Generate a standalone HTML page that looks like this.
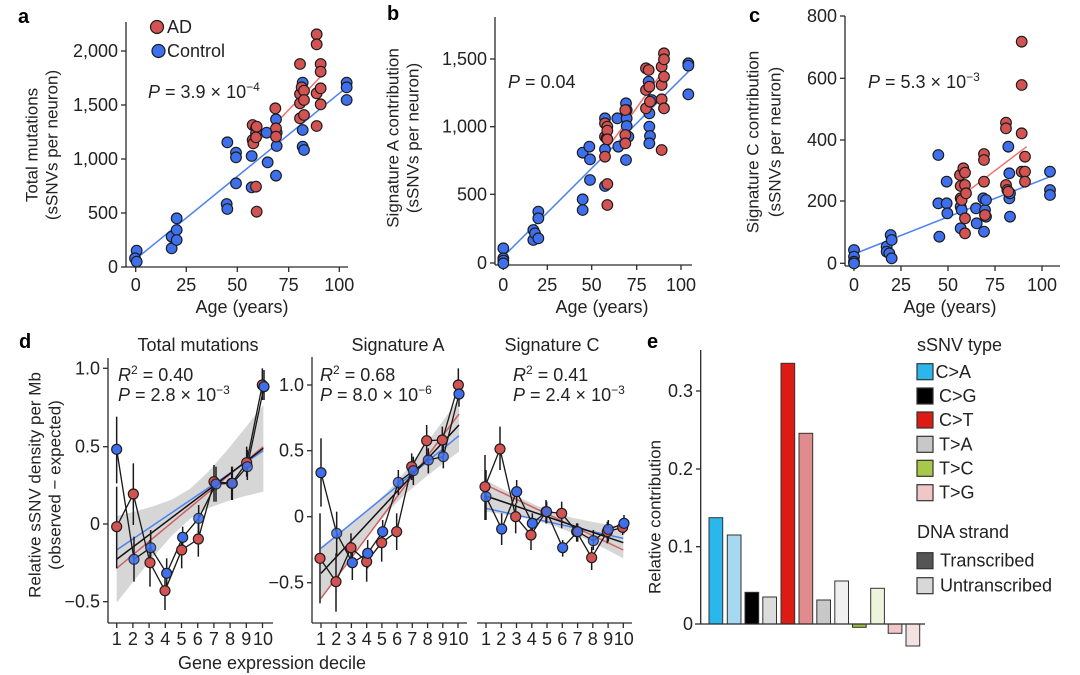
<!DOCTYPE html>
<html><head><meta charset="utf-8"><style>
html,body{margin:0;padding:0;background:#fff;}
svg{display:block;font-family:"Liberation Sans",Arial,sans-serif;}
.ax{stroke:#2a2a2a;stroke-width:1.3;fill:none;}
.t{font-size:18px;fill:#222;}
.yt{font-size:17px;fill:#222;}
.L{font-size:20px;font-weight:bold;fill:#000;}
.b{fill:#3e70ee;stroke:#1c1c1c;stroke-width:3.5;}
.r{fill:#d35353;stroke:#1c1c1c;stroke-width:3.5;}
.eb{stroke:#1a1a1a;stroke-width:4.5;}
.cn{stroke:#1a1a1a;stroke-width:4;fill:none;}
.bar{stroke:#333;stroke-width:1;}
</style></head><body>
<svg width="1080" height="675" viewBox="0 0 1080 675" xmlns="http://www.w3.org/2000/svg">

<!-- ================= Panel a ================= -->
<text class="L" x="18" y="23">a</text>
<line class="ax" x1="126" y1="22" x2="126" y2="267"/>
<line class="ax" x1="126" y1="267" x2="348" y2="267"/>
<g class="ax">
<line x1="121" y1="267" x2="126" y2="267"/><line x1="121" y1="213" x2="126" y2="213"/><line x1="121" y1="159" x2="126" y2="159"/><line x1="121" y1="105" x2="126" y2="105"/><line x1="121" y1="51" x2="126" y2="51"/>
<line x1="135.7" y1="267" x2="135.7" y2="272"/><line x1="186.3" y1="267" x2="186.3" y2="272"/><line x1="237.3" y1="267" x2="237.3" y2="272"/><line x1="288.7" y1="267" x2="288.7" y2="272"/><line x1="339.3" y1="267" x2="339.3" y2="272"/>
</g>
<g class="t" text-anchor="end">
<text x="118" y="273">0</text><text x="118" y="219">500</text><text x="118" y="165">1,000</text><text x="118" y="111">1,500</text><text x="118" y="57">2,000</text>
</g>
<g class="t" text-anchor="middle">
<text x="135.7" y="291">0</text><text x="186.3" y="291">25</text><text x="237.3" y="291">50</text><text x="288.7" y="291">75</text><text x="339.3" y="291">100</text>
<text x="242" y="313">Age (years)</text>
</g>
<g class="yt" text-anchor="middle" dominant-baseline="central">
<text transform="translate(32,145) rotate(-90)">Total mutations</text>
<text transform="translate(52,145) rotate(-90)">(sSNVs per neuron)</text>
</g>
<circle cx="157" cy="27" r="6.5" fill="#d35353" stroke="#1c1c1c" stroke-width="1.2"/>
<text class="t" x="167" y="33">AD</text>
<circle cx="158.5" cy="51" r="6.5" fill="#3e70ee" stroke="#1c1c1c" stroke-width="1.2"/>
<text class="t" x="167" y="57">Control</text>
<text class="t" x="148" y="98"><tspan font-style="italic">P</tspan> = 3.9 × 10<tspan font-size="12" dy="-7">−4</tspan></text>
<g transform="scale(0.33333)">
<line x1="410" y1="775" x2="1040" y2="262" stroke="#4d80f0" stroke-width="4.5"/>
<line x1="760" y1="440" x2="962" y2="230" stroke="#f07070" stroke-width="4.5"/>
<g class="b">
<circle cx="410" cy="752" r="16"/><circle cx="405" cy="775" r="16"/><circle cx="410" cy="785" r="16"/>
<circle cx="515" cy="710" r="16"/><circle cx="515" cy="745" r="16"/><circle cx="530" cy="690" r="16"/><circle cx="530" cy="720" r="16"/><circle cx="530" cy="655" r="16"/>
<circle cx="682" cy="427" r="16"/><circle cx="680" cy="612" r="16"/><circle cx="682" cy="627" r="16"/>
<circle cx="708" cy="458" r="16"/><circle cx="708" cy="472" r="16"/><circle cx="708" cy="550" r="16"/>
<circle cx="755" cy="468" r="16"/><circle cx="755" cy="562" r="16"/>
<circle cx="800" cy="398" r="16"/><circle cx="803" cy="487" r="16"/>
<circle cx="828" cy="358" r="16"/><circle cx="830" cy="398" r="16"/><circle cx="830" cy="438" r="16"/><circle cx="828" cy="527" r="16"/>
<circle cx="908" cy="248" r="16"/><circle cx="908" cy="390" r="16"/><circle cx="908" cy="440" r="16"/><circle cx="912" cy="450" r="16"/>
<circle cx="1040" cy="248" r="16"/><circle cx="1040" cy="262" r="16"/><circle cx="1040" cy="300" r="16"/>
</g>
<g class="r">
<circle cx="758" cy="375" r="16"/><circle cx="758" cy="420" r="16"/><circle cx="760" cy="430" r="16"/><circle cx="768" cy="385" r="16"/><circle cx="768" cy="400" r="16"/><circle cx="768" cy="412" r="16"/><circle cx="770" cy="380" r="16"/><circle cx="768" cy="560" r="16"/><circle cx="770" cy="635" r="16"/>
<circle cx="826" cy="325" r="16"/><circle cx="828" cy="385" r="16"/><circle cx="828" cy="410" r="16"/>
<circle cx="900" cy="192" r="16"/><circle cx="900" cy="282" r="16"/><circle cx="900" cy="310" r="16"/><circle cx="900" cy="355" r="16"/><circle cx="905" cy="262" r="16"/>
<circle cx="912" cy="272" r="16"/><circle cx="912" cy="300" r="16"/><circle cx="912" cy="345" r="16"/>
<circle cx="950" cy="103" r="16"/><circle cx="950" cy="133" r="16"/><circle cx="950" cy="280" r="16"/><circle cx="950" cy="378" r="16"/>
<circle cx="962" cy="192" r="16"/><circle cx="962" cy="215" r="16"/><circle cx="962" cy="265" r="16"/><circle cx="962" cy="313" r="16"/>
</g>
</g>

<!-- ================= Panel b ================= -->
<text class="L" x="387" y="20">b</text>
<line class="ax" x1="495" y1="17" x2="495" y2="265"/>
<line class="ax" x1="495" y1="265" x2="692" y2="265"/>
<g class="ax">
<line x1="490" y1="263" x2="495" y2="263"/><line x1="490" y1="194.3" x2="495" y2="194.3"/><line x1="490" y1="126.7" x2="495" y2="126.7"/><line x1="490" y1="59" x2="495" y2="59"/>
<line x1="503.3" y1="265" x2="503.3" y2="270"/><line x1="547.3" y1="265" x2="547.3" y2="270"/><line x1="591.7" y1="265" x2="591.7" y2="270"/><line x1="636.7" y1="265" x2="636.7" y2="270"/><line x1="681" y1="265" x2="681" y2="270"/>
</g>
<g class="t" text-anchor="end">
<text x="487" y="269">0</text><text x="487" y="200.3">500</text><text x="487" y="132.7">1,000</text><text x="487" y="65">1,500</text>
</g>
<g class="t" text-anchor="middle">
<text x="503.3" y="291">0</text><text x="547.3" y="291">25</text><text x="591.7" y="291">50</text><text x="636.7" y="291">75</text><text x="681" y="291">100</text>
<text x="602" y="313">Age (years)</text>
</g>
<g class="yt" text-anchor="middle" dominant-baseline="central">
<text transform="translate(393,138) rotate(-90)">Signature A contribution</text>
<text transform="translate(413,138) rotate(-90)">(sSNVs per neuron)</text>
</g>
<text class="t" x="508" y="88"><tspan font-style="italic">P</tspan> = 0.04</text>
<g transform="translate(360,0) scale(0.33333)">
<line x1="430" y1="770" x2="985" y2="215" stroke="#4d80f0" stroke-width="4.5"/>
<line x1="742" y1="445" x2="912" y2="210" stroke="#f07070" stroke-width="4.5"/>
<g class="b">
<circle cx="430" cy="745" r="16"/><circle cx="430" cy="775" r="16"/><circle cx="430" cy="782" r="16"/><circle cx="430" cy="790" r="16"/>
<circle cx="520" cy="690" r="16"/><circle cx="520" cy="720" r="16"/><circle cx="525" cy="700" r="16"/><circle cx="535" cy="635" r="16"/><circle cx="535" cy="655" r="16"/><circle cx="535" cy="715" r="16"/>
<circle cx="668" cy="458" r="16"/><circle cx="668" cy="598" r="16"/><circle cx="668" cy="630" r="16"/>
<circle cx="688" cy="440" r="16"/><circle cx="690" cy="478" r="16"/><circle cx="690" cy="540" r="16"/>
<circle cx="735" cy="355" r="16"/><circle cx="735" cy="448" r="16"/><circle cx="735" cy="558" r="16"/>
<circle cx="772" cy="355" r="16"/><circle cx="775" cy="440" r="16"/>
<circle cx="798" cy="310" r="16"/><circle cx="800" cy="330" r="16"/><circle cx="800" cy="355" r="16"/><circle cx="800" cy="378" r="16"/><circle cx="798" cy="480" r="16"/><circle cx="805" cy="410" r="16"/>
<circle cx="866" cy="245" r="16"/><circle cx="868" cy="340" r="16"/><circle cx="868" cy="380" r="16"/><circle cx="870" cy="408" r="16"/><circle cx="868" cy="430" r="16"/><circle cx="875" cy="300" r="16"/>
<circle cx="985" cy="190" r="16"/><circle cx="985" cy="197" r="16"/><circle cx="985" cy="283" r="16"/>
</g>
<g class="r">
<circle cx="735" cy="370" r="16"/><circle cx="735" cy="410" r="16"/><circle cx="735" cy="470" r="16"/><circle cx="740" cy="415" r="16"/><circle cx="742" cy="380" r="16"/><circle cx="742" cy="392" r="16"/><circle cx="742" cy="418" r="16"/><circle cx="742" cy="552" r="16"/><circle cx="742" cy="615" r="16"/>
<circle cx="796" cy="330" r="16"/><circle cx="796" cy="405" r="16"/><circle cx="796" cy="430" r="16"/>
<circle cx="858" cy="205" r="16"/><circle cx="858" cy="270" r="16"/><circle cx="858" cy="325" r="16"/><circle cx="866" cy="210" r="16"/><circle cx="868" cy="260" r="16"/><circle cx="870" cy="305" r="16"/>
<circle cx="905" cy="200" r="16"/><circle cx="905" cy="255" r="16"/><circle cx="905" cy="298" r="16"/><circle cx="905" cy="450" r="16"/>
<circle cx="912" cy="160" r="16"/><circle cx="912" cy="178" r="16"/><circle cx="912" cy="230" r="16"/><circle cx="912" cy="325" r="16"/>
</g>
</g>

<!-- ================= Panel c ================= -->
<text class="L" x="749" y="22">c</text>
<line class="ax" x1="845" y1="16" x2="845" y2="266"/>
<line class="ax" x1="845" y1="266" x2="1060" y2="266"/>
<g class="ax">
<line x1="840" y1="263.3" x2="845" y2="263.3"/><line x1="840" y1="201" x2="845" y2="201"/><line x1="840" y1="140" x2="845" y2="140"/><line x1="840" y1="78.3" x2="845" y2="78.3"/><line x1="840" y1="16" x2="845" y2="16"/>
<line x1="854" y1="266" x2="854" y2="271"/><line x1="901" y1="266" x2="901" y2="271"/><line x1="948" y1="266" x2="948" y2="271"/><line x1="995" y1="266" x2="995" y2="271"/><line x1="1042" y1="266" x2="1042" y2="271"/>
</g>
<g class="t" text-anchor="end">
<text x="837" y="269.3">0</text><text x="837" y="207">200</text><text x="837" y="146">400</text><text x="837" y="84.3">600</text><text x="837" y="22">800</text>
</g>
<g class="t" text-anchor="middle">
<text x="854" y="291">0</text><text x="901" y="291">25</text><text x="948" y="291">50</text><text x="995" y="291">75</text><text x="1042" y="291">100</text>
<text x="950" y="313">Age (years)</text>
</g>
<g class="yt" text-anchor="middle" dominant-baseline="central">
<text transform="translate(753,142) rotate(-90)">Signature C contribution</text>
<text transform="translate(775,142) rotate(-90)">(sSNVs per neuron)</text>
</g>
<text class="t" x="868" y="88"><tspan font-style="italic">P</tspan> = 5.3 × 10<tspan font-size="12" dy="-7">−3</tspan></text>
<g transform="translate(720,0) scale(0.33333)">
<line x1="402" y1="762" x2="990" y2="530" stroke="#4d80f0" stroke-width="4.5"/>
<line x1="735" y1="580" x2="920" y2="440" stroke="#f07070" stroke-width="4.5"/>
<g class="b">
<circle cx="402" cy="750" r="16"/><circle cx="402" cy="770" r="16"/><circle cx="402" cy="785" r="16"/><circle cx="402" cy="790" r="16"/>
<circle cx="500" cy="740" r="16"/><circle cx="500" cy="755" r="16"/><circle cx="508" cy="760" r="16"/><circle cx="512" cy="705" r="16"/><circle cx="515" cy="720" r="16"/><circle cx="515" cy="775" r="16"/>
<circle cx="655" cy="465" r="16"/><circle cx="655" cy="610" r="16"/><circle cx="658" cy="710" r="16"/>
<circle cx="680" cy="545" r="16"/><circle cx="680" cy="610" r="16"/><circle cx="682" cy="640" r="16"/>
<circle cx="722" cy="620" r="16"/><circle cx="722" cy="685" r="16"/><circle cx="725" cy="630" r="16"/>
<circle cx="768" cy="625" r="16"/><circle cx="770" cy="670" r="16"/>
<circle cx="790" cy="595" r="16"/><circle cx="792" cy="695" r="16"/><circle cx="795" cy="630" r="16"/><circle cx="798" cy="650" r="16"/><circle cx="798" cy="600" r="16"/>
<circle cx="865" cy="440" r="16"/><circle cx="868" cy="520" r="16"/><circle cx="868" cy="595" r="16"/><circle cx="870" cy="650" r="16"/><circle cx="870" cy="580" r="16"/>
<circle cx="990" cy="515" r="16"/><circle cx="990" cy="570" r="16"/><circle cx="990" cy="585" r="16"/>
</g>
<g class="r">
<circle cx="720" cy="525" r="16"/><circle cx="722" cy="558" r="16"/><circle cx="722" cy="595" r="16"/><circle cx="725" cy="600" r="16"/><circle cx="730" cy="505" r="16"/><circle cx="735" cy="518" r="16"/><circle cx="735" cy="555" r="16"/><circle cx="738" cy="580" r="16"/><circle cx="735" cy="655" r="16"/><circle cx="735" cy="700" r="16"/>
<circle cx="792" cy="462" r="16"/><circle cx="792" cy="480" r="16"/><circle cx="792" cy="545" r="16"/><circle cx="795" cy="645" r="16"/>
<circle cx="858" cy="368" r="16"/><circle cx="858" cy="385" r="16"/><circle cx="858" cy="555" r="16"/><circle cx="862" cy="570" r="16"/><circle cx="865" cy="575" r="16"/>
<circle cx="905" cy="125" r="16"/><circle cx="905" cy="255" r="16"/><circle cx="905" cy="400" r="16"/><circle cx="905" cy="515" r="16"/>
<circle cx="915" cy="470" r="16"/><circle cx="915" cy="515" r="16"/><circle cx="915" cy="545" r="16"/>
</g>
</g>

<!-- ================= Panel d ================= -->
<text class="L" x="19" y="348">d</text>
<g class="t" text-anchor="middle">
<text x="198" y="351">Total mutations</text>
<text x="398" y="351">Signature A</text>
<text x="552" y="351">Signature C</text>
<text x="272" y="669">Gene expression decile</text>
</g>
<g class="yt" text-anchor="middle" dominant-baseline="central">
<text transform="translate(35,485) rotate(-90)">Relative sSNV density per Mb</text>
<text transform="translate(55,485) rotate(-90)">(observed − expected)</text>
</g>
<!-- axes d1 -->
<line class="ax" x1="108" y1="358" x2="108" y2="623"/>
<line class="ax" x1="108" y1="623" x2="273" y2="623"/>
<g class="ax">
<line x1="103" y1="368.3" x2="108" y2="368.3"/><line x1="103" y1="446.7" x2="108" y2="446.7"/><line x1="103" y1="524" x2="108" y2="524"/><line x1="103" y1="601.7" x2="108" y2="601.7"/>
</g>
<g class="t" text-anchor="end">
<text x="100" y="374.3">1.0</text><text x="100" y="452.7">0.5</text><text x="100" y="530">0</text><text x="100" y="607.7">−0.5</text>
</g>
<!-- axes d2 -->
<line class="ax" x1="312" y1="357" x2="312" y2="623"/>
<line class="ax" x1="312" y1="623" x2="467" y2="623"/>
<g class="ax">
<line x1="307" y1="385" x2="312" y2="385"/><line x1="307" y1="450.7" x2="312" y2="450.7"/><line x1="307" y1="516.7" x2="312" y2="516.7"/><line x1="307" y1="582.7" x2="312" y2="582.7"/>
</g>
<g class="t" text-anchor="end">
<text x="304" y="391">1.0</text><text x="304" y="456.7">0.5</text><text x="304" y="522.7">0</text><text x="304" y="588.7">−0.5</text>
</g>
<!-- axes d3 -->
<line class="ax" x1="477" y1="623" x2="632" y2="623"/>
<!-- x ticks d -->
<g class="ax">
<line x1="116.7" y1="623" x2="116.7" y2="628"/><line x1="132.9" y1="623" x2="132.9" y2="628"/><line x1="149.1" y1="623" x2="149.1" y2="628"/><line x1="165.3" y1="623" x2="165.3" y2="628"/><line x1="181.5" y1="623" x2="181.5" y2="628"/><line x1="197.7" y1="623" x2="197.7" y2="628"/><line x1="213.9" y1="623" x2="213.9" y2="628"/><line x1="230.1" y1="623" x2="230.1" y2="628"/><line x1="246.3" y1="623" x2="246.3" y2="628"/><line x1="262.5" y1="623" x2="262.5" y2="628"/>
<line x1="321" y1="623" x2="321" y2="628"/><line x1="336.2" y1="623" x2="336.2" y2="628"/><line x1="351.4" y1="623" x2="351.4" y2="628"/><line x1="366.7" y1="623" x2="366.7" y2="628"/><line x1="381.9" y1="623" x2="381.9" y2="628"/><line x1="397.1" y1="623" x2="397.1" y2="628"/><line x1="412.3" y1="623" x2="412.3" y2="628"/><line x1="427.6" y1="623" x2="427.6" y2="628"/><line x1="442.8" y1="623" x2="442.8" y2="628"/><line x1="458" y1="623" x2="458" y2="628"/>
<line x1="486" y1="623" x2="486" y2="628"/><line x1="501.3" y1="623" x2="501.3" y2="628"/><line x1="516.5" y1="623" x2="516.5" y2="628"/><line x1="531.8" y1="623" x2="531.8" y2="628"/><line x1="547" y1="623" x2="547" y2="628"/><line x1="562.3" y1="623" x2="562.3" y2="628"/><line x1="577.6" y1="623" x2="577.6" y2="628"/><line x1="592.8" y1="623" x2="592.8" y2="628"/><line x1="608.1" y1="623" x2="608.1" y2="628"/><line x1="623.3" y1="623" x2="623.3" y2="628"/>
</g>
<g class="t" text-anchor="middle">
<text x="116.7" y="645">1</text><text x="132.9" y="645">2</text><text x="149.1" y="645">3</text><text x="165.3" y="645">4</text><text x="181.5" y="645">5</text><text x="197.7" y="645">6</text><text x="213.9" y="645">7</text><text x="230.1" y="645">8</text><text x="246.3" y="645">9</text><text x="263" y="645">10</text>
<text x="321" y="645">1</text><text x="336.2" y="645">2</text><text x="351.4" y="645">3</text><text x="366.7" y="645">4</text><text x="381.9" y="645">5</text><text x="397.1" y="645">6</text><text x="412.3" y="645">7</text><text x="427.6" y="645">8</text><text x="442.8" y="645">9</text><text x="458.5" y="645">10</text>
<text x="486" y="645">1</text><text x="501.3" y="645">2</text><text x="516.5" y="645">3</text><text x="531.8" y="645">4</text><text x="547" y="645">5</text><text x="562.3" y="645">6</text><text x="577.6" y="645">7</text><text x="592.8" y="645">8</text><text x="608.1" y="645">9</text><text x="623.8" y="645">10</text>
</g>
<!-- R2 / P texts -->
<g class="t">
<text x="118" y="381"><tspan font-style="italic">R</tspan><tspan font-size="12" dy="-7">2</tspan><tspan dy="7"> = 0.40</tspan></text>
<text x="118" y="401"><tspan font-style="italic">P</tspan> = 2.8 × 10<tspan font-size="12" dy="-7">−3</tspan></text>
<text x="320" y="381"><tspan font-style="italic">R</tspan><tspan font-size="12" dy="-7">2</tspan><tspan dy="7"> = 0.68</tspan></text>
<text x="320" y="401"><tspan font-style="italic">P</tspan> = 8.0 × 10<tspan font-size="12" dy="-7">−6</tspan></text>
<text x="513" y="381"><tspan font-style="italic">R</tspan><tspan font-size="12" dy="-7">2</tspan><tspan dy="7"> = 0.41</tspan></text>
<text x="513" y="401"><tspan font-style="italic">P</tspan> = 2.4 × 10<tspan font-size="12" dy="-7">−3</tspan></text>
</g>

<!-- d1 marks -->
<g transform="translate(0,320) scale(0.33333)">
<polygon fill="#cfcfcf" opacity="0.85" points="350,588 405,574.5 460,558.9 515,538.7 570,506.5 625,455.4 680,392.4 735,324.7 790,254.9 790,514.9 735,528.5 680,544 625,564.2 570,596.5 515,647.5 460,710.5 405,778.3 350,848"/>
<line x1="350" y1="690" x2="790" y2="392" stroke="#4d80f0" stroke-width="4.5"/>
<line x1="350" y1="745" x2="790" y2="380" stroke="#d06060" stroke-width="4.5"/>
<line x1="350" y1="718" x2="790" y2="385" stroke="#111" stroke-width="4.5"/>
<g class="eb">
<line x1="350" y1="290" x2="350" y2="490"/><line x1="402" y1="650" x2="402" y2="785"/><line x1="452" y1="630" x2="452" y2="745"/><line x1="500" y1="715" x2="500" y2="810"/><line x1="548" y1="620" x2="548" y2="700"/><line x1="596" y1="555" x2="596" y2="640"/><line x1="648" y1="440" x2="648" y2="545"/><line x1="697" y1="440" x2="697" y2="540"/><line x1="742" y1="390" x2="742" y2="480"/><line x1="792" y1="150" x2="792" y2="240"/>
<line x1="350" y1="500" x2="350" y2="745"/><line x1="400" y1="430" x2="400" y2="615"/><line x1="450" y1="660" x2="450" y2="800"/><line x1="495" y1="760" x2="495" y2="870"/><line x1="545" y1="640" x2="545" y2="745"/><line x1="595" y1="610" x2="595" y2="710"/><line x1="642" y1="435" x2="642" y2="545"/><line x1="695" y1="440" x2="695" y2="540"/><line x1="740" y1="380" x2="740" y2="470"/><line x1="787" y1="145" x2="787" y2="240"/>
</g>
<polyline class="cn" points="350,388 402,718 452,683 500,760 548,652 596,595 648,492 697,490 742,440 792,200"/>
<polyline class="cn" points="350,620 400,522 450,728 495,812 545,690 595,657 642,485 695,490 740,428 787,195"/>
<g class="r">
<circle cx="350" cy="620" r="15"/><circle cx="400" cy="522" r="15"/><circle cx="450" cy="728" r="15"/><circle cx="495" cy="812" r="15"/><circle cx="545" cy="690" r="15"/><circle cx="595" cy="657" r="15"/><circle cx="642" cy="485" r="15"/><circle cx="695" cy="490" r="15"/><circle cx="740" cy="428" r="15"/><circle cx="787" cy="195" r="15"/>
</g>
<g class="b">
<circle cx="350" cy="388" r="15"/><circle cx="402" cy="718" r="15" opacity="0.85"/><circle cx="452" cy="683" r="15" opacity="0.85"/><circle cx="500" cy="760" r="15"/><circle cx="548" cy="652" r="15"/><circle cx="596" cy="595" r="15" opacity="0.85"/><circle cx="648" cy="492" r="15" opacity="0.85"/><circle cx="697" cy="490" r="15" opacity="0.85"/><circle cx="742" cy="440" r="15" opacity="0.85"/><circle cx="792" cy="200" r="15"/>
</g>
</g>

<!-- d2 & d3 marks -->
<g transform="translate(280,320) scale(0.33333)">
<polygon fill="#cfcfcf" opacity="0.85" points="123,680 175,641.1 227,600.7 278,558.1 330,507.5 382,446.3 434,377.9 485,307.9 537,235 537,395 485,433.9 434,473.5 382,516.9 330,567.5 278,628.7 227,695.7 175,767.1 123,840"/>
<line x1="123" y1="685" x2="537" y2="347" stroke="#4d80f0" stroke-width="4.5"/>
<line x1="123" y1="835" x2="537" y2="282" stroke="#d06060" stroke-width="4.5"/>
<line x1="123" y1="760" x2="537" y2="315" stroke="#111" stroke-width="4.5"/>
<g class="eb">
<line x1="123" y1="355" x2="123" y2="560"/><line x1="170" y1="575" x2="170" y2="705"/><line x1="217" y1="690" x2="217" y2="780"/><line x1="263" y1="660" x2="263" y2="745"/><line x1="308" y1="600" x2="308" y2="670"/><line x1="355" y1="450" x2="355" y2="525"/><line x1="400" y1="410" x2="400" y2="495"/><line x1="445" y1="385" x2="445" y2="460"/><line x1="490" y1="375" x2="490" y2="445"/><line x1="537" y1="185" x2="537" y2="260"/>
<line x1="120" y1="580" x2="120" y2="850"/><line x1="168" y1="700" x2="168" y2="875"/><line x1="213" y1="640" x2="213" y2="740"/><line x1="260" y1="690" x2="260" y2="785"/><line x1="305" y1="630" x2="305" y2="725"/><line x1="350" y1="580" x2="350" y2="690"/><line x1="395" y1="400" x2="395" y2="480"/><line x1="440" y1="315" x2="440" y2="410"/><line x1="487" y1="320" x2="487" y2="400"/><line x1="535" y1="145" x2="535" y2="240"/>
</g>
<polyline class="cn" points="123,458 170,640 217,728 263,700 308,635 355,487 400,452 445,420 490,410 537,222"/>
<polyline class="cn" points="120,715 168,785 213,683 260,725 305,668 350,635 395,440 440,362 487,360 535,195"/>
<g class="r">
<circle cx="120" cy="715" r="15"/><circle cx="168" cy="785" r="15"/><circle cx="213" cy="683" r="15"/><circle cx="260" cy="725" r="15"/><circle cx="305" cy="668" r="15"/><circle cx="350" cy="635" r="15"/><circle cx="395" cy="440" r="15"/><circle cx="440" cy="362" r="15"/><circle cx="487" cy="360" r="15"/><circle cx="535" cy="195" r="15"/>
</g>
<g class="b">
<circle cx="123" cy="458" r="15"/><circle cx="170" cy="640" r="15" opacity="0.85"/><circle cx="217" cy="728" r="15"/><circle cx="263" cy="700" r="15"/><circle cx="308" cy="635" r="15"/><circle cx="355" cy="487" r="15" opacity="0.85"/><circle cx="400" cy="452" r="15" opacity="0.85"/><circle cx="445" cy="420" r="15" opacity="0.85"/><circle cx="490" cy="410" r="15" opacity="0.85"/><circle cx="537" cy="222" r="15"/>
</g>

<polygon fill="#cfcfcf" opacity="0.85" points="618,481.1 670,508.2 721,533.8 773,558.1 824,578 876,593 927,603.9 979,613.1 1030,621.2 1030,715 979,688.3 927,662.3 876,638.4 824,618 773,603.3 721,592.2 670,583.2 618,574.9"/>
<line x1="618" y1="565" x2="1030" y2="655" stroke="#4d80f0" stroke-width="4.5"/>
<line x1="618" y1="495" x2="1030" y2="690" stroke="#d06060" stroke-width="4.5"/>
<line x1="618" y1="528" x2="1030" y2="668" stroke="#111" stroke-width="4.5"/>
<g class="eb">
<line x1="618" y1="450" x2="618" y2="600"/><line x1="665" y1="580" x2="665" y2="675"/><line x1="710" y1="480" x2="710" y2="550"/><line x1="757" y1="580" x2="757" y2="645"/><line x1="800" y1="545" x2="800" y2="610"/><line x1="848" y1="660" x2="848" y2="710"/><line x1="893" y1="610" x2="893" y2="665"/><line x1="940" y1="630" x2="940" y2="690"/><line x1="985" y1="600" x2="985" y2="665"/><line x1="1032" y1="585" x2="1032" y2="640"/>
<line x1="615" y1="405" x2="615" y2="600"/><line x1="660" y1="320" x2="660" y2="450"/><line x1="707" y1="550" x2="707" y2="640"/><line x1="753" y1="610" x2="753" y2="690"/><line x1="798" y1="540" x2="798" y2="610"/><line x1="845" y1="545" x2="845" y2="625"/><line x1="890" y1="610" x2="890" y2="665"/><line x1="935" y1="680" x2="935" y2="750"/><line x1="982" y1="605" x2="982" y2="670"/><line x1="1028" y1="600" x2="1028" y2="645"/>
</g>
<polyline class="cn" points="618,530 665,627 710,515 757,610 800,575 848,683 893,635 940,662 985,628 1032,610"/>
<polyline class="cn" points="615,500 660,387 707,590 753,645 798,575 845,580 890,635 935,713 982,635 1028,622"/>
<g class="r">
<circle cx="615" cy="500" r="15"/><circle cx="660" cy="387" r="15"/><circle cx="707" cy="590" r="15"/><circle cx="753" cy="645" r="15"/><circle cx="798" cy="575" r="15"/><circle cx="845" cy="580" r="15"/><circle cx="890" cy="635" r="15"/><circle cx="935" cy="713" r="15"/><circle cx="982" cy="635" r="15"/><circle cx="1028" cy="622" r="15"/>
</g>
<g class="b">
<circle cx="618" cy="530" r="15" opacity="0.85"/><circle cx="665" cy="627" r="15"/><circle cx="710" cy="515" r="15"/><circle cx="757" cy="610" r="15"/><circle cx="800" cy="575" r="15" opacity="0.85"/><circle cx="848" cy="683" r="15"/><circle cx="893" cy="635" r="15" opacity="0.85"/><circle cx="940" cy="662" r="15" opacity="0.85"/><circle cx="985" cy="628" r="15" opacity="0.85"/><circle cx="1032" cy="610" r="15"/>
</g>
</g>

<!-- ================= Panel e ================= -->
<text class="L" x="647" y="348">e</text>
<line class="ax" x1="700.7" y1="350" x2="700.7" y2="624"/>
<g class="ax">
<line x1="696" y1="391" x2="700.7" y2="391"/><line x1="696" y1="469" x2="700.7" y2="469"/><line x1="696" y1="546.7" x2="700.7" y2="546.7"/>
</g>
<g class="t" text-anchor="end">
<text x="693" y="397">0.3</text><text x="693" y="475">0.2</text><text x="693" y="552.7">0.1</text><text x="693" y="630">0</text>
</g>
<text class="yt" text-anchor="middle" dominant-baseline="central" transform="translate(655,517) rotate(-90)">Relative contribution</text>
<g class="bar">
<rect x="709" y="517.7" width="13.7" height="106.3" fill="#2bb6ec"/>
<rect x="727.3" y="535" width="13.7" height="89" fill="#a6d8ef"/>
<rect x="745" y="592.3" width="13.7" height="31.7" fill="#000"/>
<rect x="762.8" y="597" width="13.7" height="27" fill="#dcdcdc"/>
<rect x="781" y="363.3" width="13.7" height="260.7" fill="#dd1a14"/>
<rect x="799" y="433.3" width="13.7" height="190.7" fill="#e08c8c"/>
<rect x="816.8" y="600" width="13.7" height="24" fill="#c8c8c8"/>
<rect x="834.8" y="581" width="13.7" height="43" fill="#f0f0f0"/>
<rect x="852.5" y="624" width="13.7" height="3.3" fill="#9dc23c"/>
<rect x="870.7" y="588.3" width="13.7" height="35.7" fill="#eef3dc"/>
<rect x="888.2" y="624" width="13.7" height="9.3" fill="#f1c6c6"/>
<rect x="906" y="624" width="13.7" height="22" fill="#f4e2e2"/>
</g>
<line class="ax" x1="695" y1="624" x2="925" y2="624"/>
<!-- legend e -->
<text class="t" x="917" y="351">sSNV type</text>
<g stroke="#333" stroke-width="1.2">
<rect x="917" y="363.7" width="16" height="16" fill="#2bb6ec"/>
<rect x="917" y="388" width="16" height="16" fill="#000"/>
<rect x="917" y="412" width="16" height="16" fill="#dd1a14"/>
<rect x="917" y="436.3" width="16" height="16" fill="#c8c8c8"/>
<rect x="917" y="460.3" width="16" height="16" fill="#a8c84a"/>
<rect x="917" y="484.7" width="16" height="16" fill="#f1c6c6"/>
<rect x="917" y="552.7" width="16" height="16" fill="#555"/>
<rect x="917" y="577.7" width="16" height="16" fill="#d8d8d8"/>
</g>
<g class="t">
<text x="935.5" y="378">C&gt;A</text>
<text x="939" y="402">C&gt;G</text>
<text x="939" y="426">C&gt;T</text>
<text x="939" y="450.3">T&gt;A</text>
<text x="939" y="474.3">T&gt;C</text>
<text x="939" y="498.7">T&gt;G</text>
<text x="917" y="538">DNA strand</text>
<text x="940" y="566.7">Transcribed</text>
<text x="940" y="591.7">Untranscribed</text>
</g>
</svg>
</body></html>
